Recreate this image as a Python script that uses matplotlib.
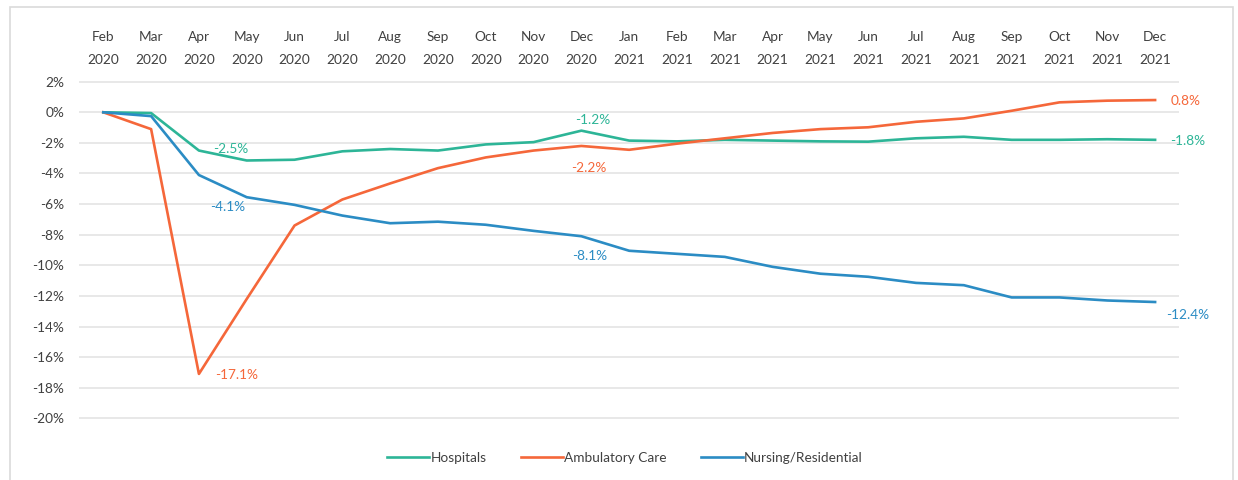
import matplotlib
matplotlib.use('Agg')
import matplotlib.pyplot as plt
from matplotlib.patches import Rectangle

plt.rcParams['font.family'] = ['Lato', 'DejaVu Sans']

months = ['Feb\n2020', 'Mar\n2020', 'Apr\n2020', 'May\n2020', 'Jun\n2020', 'Jul\n2020',
          'Aug\n2020', 'Sep\n2020', 'Oct\n2020', 'Nov\n2020', 'Dec\n2020', 'Jan\n2021',
          'Feb\n2021', 'Mar\n2021', 'Apr\n2021', 'May\n2021', 'Jun\n2021', 'Jul\n2021',
          'Aug\n2021', 'Sep\n2021', 'Oct\n2021', 'Nov\n2021', 'Dec\n2021']

hospitals = [0.0, -0.05, -2.5, -3.15, -3.1, -2.55, -2.4, -2.5, -2.1, -1.95, -1.2, -1.85,
             -1.9, -1.8, -1.85, -1.9, -1.92, -1.7, -1.6, -1.8, -1.8, -1.76, -1.8]
ambulatory = [0.0, -1.1, -17.1, -12.2, -7.4, -5.7, -4.65, -3.65, -2.95, -2.5, -2.2, -2.45,
              -2.05, -1.7, -1.35, -1.1, -0.98, -0.62, -0.4, 0.1, 0.65, 0.76, 0.8]
nursing = [0.0, -0.25, -4.1, -5.55, -6.05, -6.75, -7.25, -7.15, -7.35, -7.75, -8.1, -9.05,
           -9.25, -9.45, -10.1, -10.55, -10.75, -11.15, -11.3, -12.1, -12.1, -12.3, -12.4]

c_hosp = '#2DB597'
c_amb = '#F5673A'
c_nurs = '#2B8CC4'
fs = 9.8

fig = plt.figure(figsize=(12.38, 4.8), dpi=100)
fig.patches.append(Rectangle((10 / 1238, -0.1), 1223 / 1238, 1.1 - 7 / 480,
                             transform=fig.transFigure, fill=False,
                             edgecolor='#DADADA', linewidth=1.2))

ax = fig.add_axes([79.4 / 1238, (480 - 420.6) / 480, 1099.6 / 1238, 341.2 / 480])
x = list(range(len(months)))
ax.plot(x, hospitals, color=c_hosp, lw=1.9, label='Hospitals')
ax.plot(x, ambulatory, color=c_amb, lw=1.9, label='Ambulatory Care')
ax.plot(x, nursing, color=c_nurs, lw=1.9, label='Nursing/Residential')

ax.set_xlim(-0.5, len(months) - 0.5)
ax.set_ylim(-20.15, 2.15)
ax.set_yticks(range(-20, 3, 2))
ax.set_yticklabels([f'{v}%' for v in range(-20, 3, 2)])
ax.set_xticks(x)
ax.set_xticklabels(months)
ax.xaxis.tick_top()
for lab in ax.get_xticklabels():
    lab.set_linespacing(2.05)
ax.tick_params(axis='both', length=0, labelsize=fs, labelcolor='#404040')
ax.tick_params(axis='x', pad=10)
ax.tick_params(axis='y', pad=11)
ax.yaxis.grid(True, color='#E8E8E8', lw=1.4)
ax.set_axisbelow(True)
for s in ax.spines.values():
    s.set_visible(False)

def lab(i, series, color, dx, dy, ha='left'):
    v = series[i]
    ax.annotate(f'{v:.1f}%', (i, v), xytext=(dx, dy), textcoords='offset points',
                ha=ha, va='center', fontsize=fs, color=color)

lab(2, hospitals, c_hosp, 10, 1)
lab(2, nursing, c_nurs, 8, -23)
lab(2, ambulatory, c_amb, 12, -1)
lab(10, hospitals, c_hosp, 8, 8, ha='center')
lab(10, ambulatory, c_amb, 5, -16, ha='center')
lab(10, nursing, c_nurs, 6, -14, ha='center')
lab(22, ambulatory, c_amb, 11, -1)
lab(22, hospitals, c_hosp, 11, -1)
lab(22, nursing, c_nurs, 8, -9)

ax.legend(loc='center', bbox_to_anchor=(625 / 1238, 1 - 458 / 480),
          bbox_transform=fig.transFigure, ncol=3, frameon=False, fontsize=fs,
          handlelength=3.1, handletextpad=0.1, columnspacing=2.5,
          labelcolor='#404040')

fig.savefig('out.png', dpi=100)
